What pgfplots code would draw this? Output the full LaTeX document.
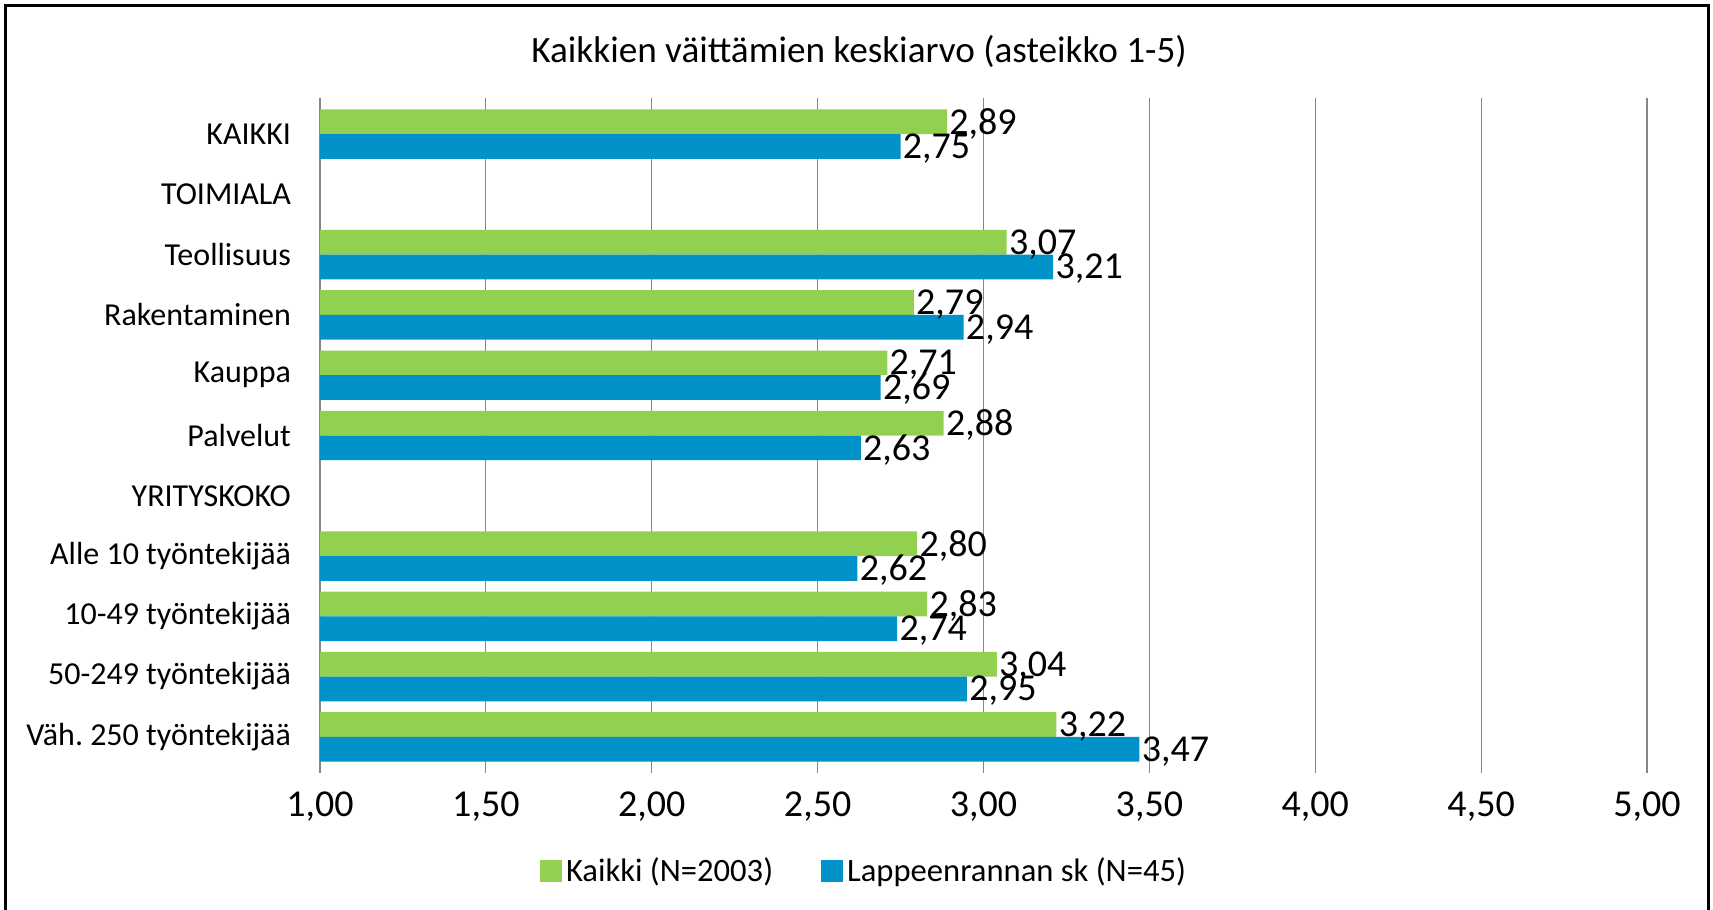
\documentclass[border=0pt]{standalone}
\usepackage{pgfplots}
\pgfplotsset{compat=1.18}
\usepackage{fontspec}
\setmainfont{Carlito}
\frenchspacing
\definecolor{cgreen}{RGB}{146,208,80}
\definecolor{cblue}{RGB}{0,146,200}
\definecolor{cgrid}{RGB}{134,134,134}
\begin{document}
\begin{tikzpicture}
\begin{axis}[
  at={(0,0)}, anchor=south west,
  scale only axis,
  width=663.5pt, height=331.5pt,
  xbar,
  xmin=1, xmax=5,
  ymin=-0.5, ymax=10.5,
  y dir=reverse,
  xtick={1,1.5,...,5},
  ytick={0,...,10},
  yticklabels={KAIKKI,TOIMIALA,Teollisuus,Rakentaminen,Kauppa,Palvelut,YRITYSKOKO,Alle 10 työntekijää,10-49 työntekijää,50-249 työntekijää,Väh. 250 työntekijää},
  xmajorgrids,
  major grid style={cgrid, line width=0.6pt},
  axis line style={draw=none},
  ytick style={draw=none},
  xtick style={cgrid, line width=0.6pt},
  tick align=outside,
  major tick length=3pt,
  clip=false,
  font=\fontsize{16}{19}\selectfont,
  yticklabel style={font=\fontsize{16}{19}\selectfont, xshift=-8pt},
  xticklabel style={font=\fontsize{19}{22}\selectfont, yshift=-6pt},
  /pgf/number format/assume math mode=true,
  xticklabel={\pgfmathprintnumber[fixed, fixed zerofill, precision=2, use comma]{\tick}},
  nodes near coords,
  nodes near coords style={anchor=west, inner sep=1pt, yshift=-1pt, font=\fontsize{19}{22}\selectfont,
    /pgf/number format/.cd, fixed, fixed zerofill, precision=2, use comma, assume math mode=true},
  bar width=0.41,
  legend style={at={(0.4107,-0.1569)}, anchor=center, draw=none, legend columns=2,
    font=\fontsize{16.3}{19}\selectfont,
    /tikz/every even column/.append style={column sep=22pt}},
  legend image code/.code={\fill[#1] (0pt,-5.5pt) rectangle (11pt,5.5pt);},
]
\addplot[fill=cgreen, draw=none, bar shift=-0.205] coordinates {
  (2.89,0) (3.07,2) (2.79,3) (2.71,4) (2.88,5) (2.80,7) (2.83,8) (3.04,9) (3.22,10)};
\addplot[fill=cblue, draw=none, bar shift=0.205] coordinates {
  (2.75,0) (3.21,2) (2.94,3) (2.69,4) (2.63,5) (2.62,7) (2.74,8) (2.95,9) (3.47,10)};
\legend{Kaikki (N=2003), Lappeenrannan sk (N=45)}
\end{axis}
\node[font=\fontsize{18.6}{22}\selectfont] at (269.5pt,358pt) {Kaikkien väittämien keskiarvo (asteikko 1-5)};
\draw[line width=1.5pt, black] (-157.25pt,-90pt) rectangle (694pt,380.75pt);
\pgfresetboundingbox
\path[use as bounding box] (-160pt,-71.5pt) rectangle (696.5pt,383.5pt);
\end{tikzpicture}
\end{document}
